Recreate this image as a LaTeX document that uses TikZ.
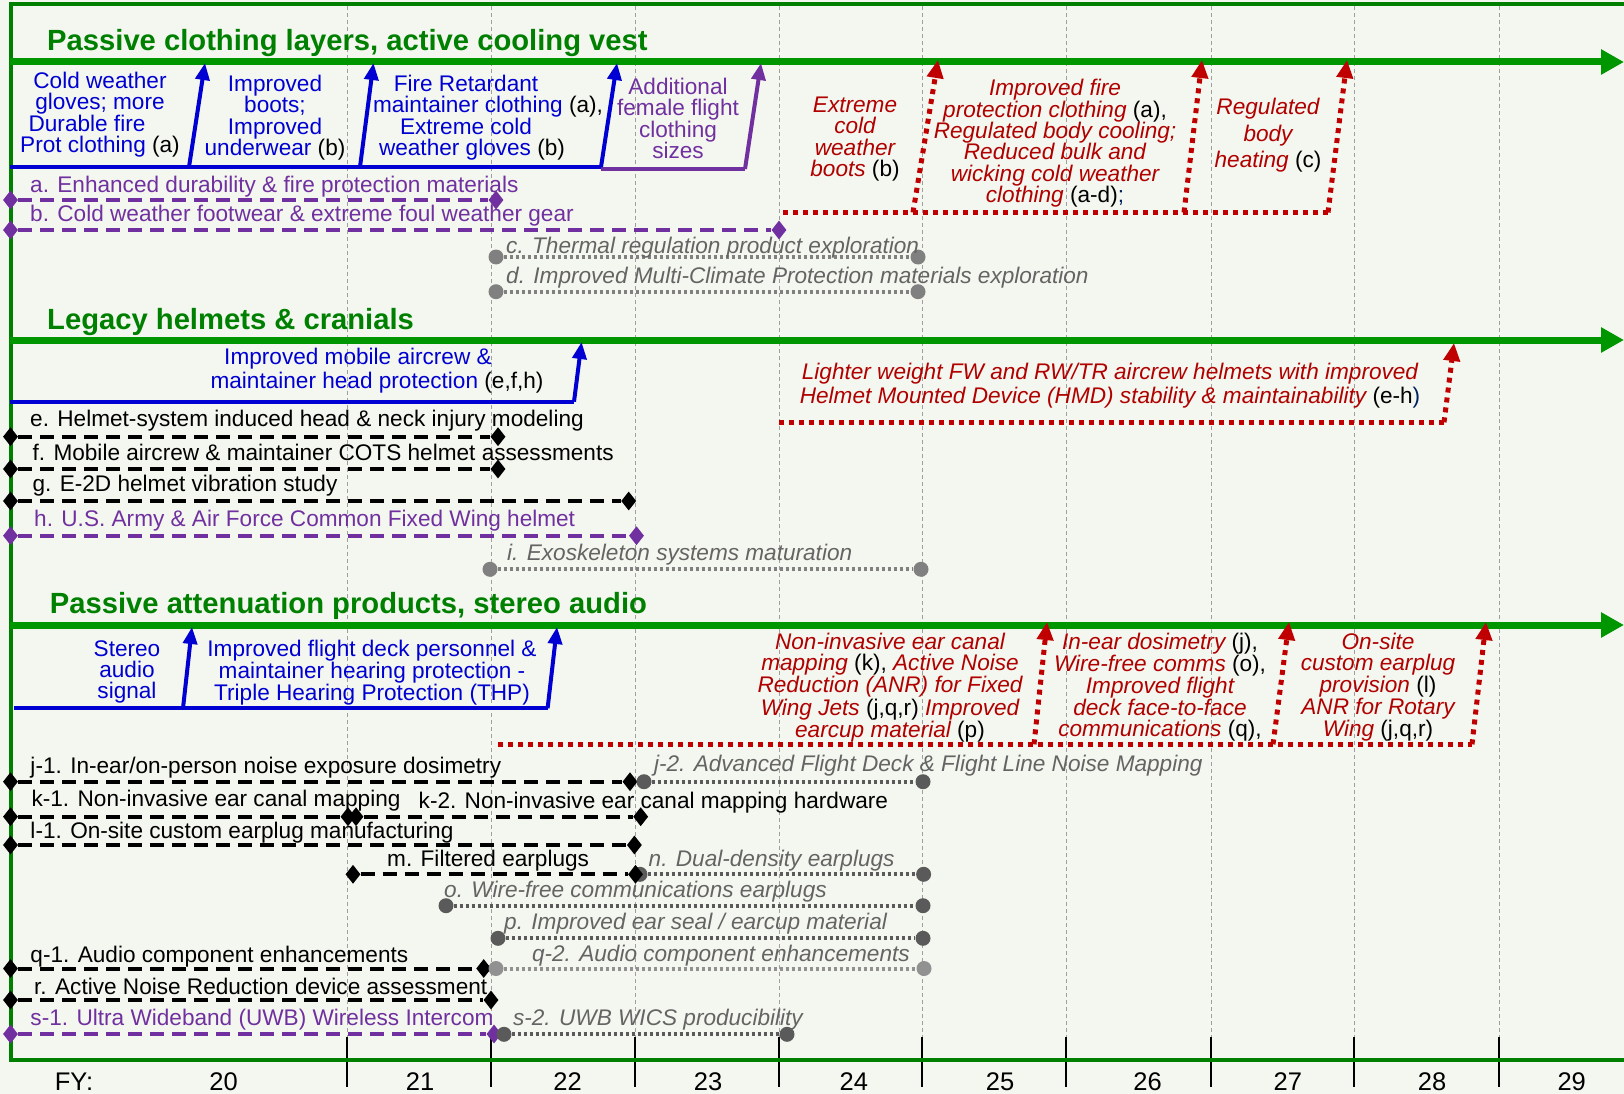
\documentclass[tikz,border=0pt]{standalone}
\usepackage{fontspec}
\setmainfont{Liberation Sans}
\usetikzlibrary{arrows.meta,shapes.geometric}
\definecolor{bg}{RGB}{244,247,239}
\definecolor{grn}{RGB}{0,150,0}
\definecolor{grnF}{RGB}{0,128,0}
\definecolor{grnT}{RGB}{0,128,0}
\definecolor{blu}{RGB}{0,0,210}
\definecolor{pur}{RGB}{112,48,160}
\definecolor{dred}{RGB}{192,0,0}
\definecolor{redT}{RGB}{176,0,0}
\definecolor{gtx}{RGB}{100,100,100}
\definecolor{gcA}{RGB}{128,128,128}
\definecolor{gcB}{RGB}{90,90,90}
\definecolor{gcC}{RGB}{145,145,145}
\definecolor{navyc}{RGB}{0,32,96}
\newcommand{\blkp}[1]{\textcolor{black}{\upshape #1}}
\begin{document}
\begin{tikzpicture}[x=1pt,y=-1pt,
  lbl/.style={anchor=base west, inner sep=0pt, font=\fontsize{22.6}{21.3}\selectfont},
  glbl/.style={anchor=base west, inner sep=0pt, text=gtx, font=\fontsize{22.6}{21.3}\selectfont\itshape},
  blk/.style={anchor=north, inner sep=0pt, align=center, font=\fontsize{22.6}{21.3}\selectfont},
  rblk/.style={anchor=north, inner sep=0pt, align=center, text=redT, font=\fontsize{22.6}{21.3}\selectfont\itshape},
  ttl/.style={anchor=base west, inner sep=0pt, text=grnT, font=\fontsize{29.2}{30}\selectfont\bfseries},
  yr/.style={anchor=base, inner sep=0pt, font=\fontsize{25.5}{26}\selectfont},
  grid/.style={draw=gray!75, line width=1pt, dash pattern=on 4pt off 3pt},
  tickl/.style={draw=black, line width=2pt},
  gline/.style={draw=grn, line width=7pt, -{Triangle[length=23pt,width=24pt]}},
  dashbar/.style={line width=4pt, dash pattern=on 14pt off 8pt},
  dotbar/.style={line width=4pt, dash pattern=on 3pt off 3pt},
  dia/.style={diamond, inner sep=0pt, minimum width=15pt, minimum height=19pt},
  gdot/.style={circle, inner sep=0pt, minimum size=15pt},
  bstep/.style={draw=blu, line width=4pt},
  barr/.style={draw=blu, line width=4pt, -{Triangle[length=17pt,width=14pt]}},
  pstep/.style={draw=pur, line width=4pt},
  parr/.style={draw=pur, line width=4pt, -{Triangle[length=17pt,width=14pt]}},
  rstep/.style={draw=dred, line width=5pt, dash pattern=on 5pt off 5pt},
  rarr/.style={draw=dred, line width=5pt, dash pattern=on 5pt off 5pt, -{Triangle[length=18pt,width=16pt]}}
]
\useasboundingbox (0,0) rectangle (1624,1094);
\clip (0,0) rectangle (1624,1094);
\fill[bg] (0,0) rectangle (1624,1094);

% grid lines and ticks
\foreach \gx in {347,491,635,779,922,1066,1211,1354,1499}{
  \draw[grid] (\gx,6) -- (\gx,1037);
  \draw[tickl] (\gx,1037) -- (\gx,1087);
}
% frame
\draw[draw=grnF, line width=4pt] (1640,4) -- (10.5,4) -- (10.5,1060) -- (1640,1060);

% year labels
\node[yr] (fy) at (74,1090) {FY:};
\node[yr] (y20) at (223.6,1090) {20};
\node[yr] (y21) at (420,1090) {21};
\node[yr] (y22) at (567.6,1090) {22};
\node[yr] (y23) at (708,1090) {23};
\node[yr] (y24) at (853.8,1090) {24};
\node[yr] (y25) at (1000,1090) {25};
\node[yr] (y26) at (1147.6,1090) {26};
\node[yr] (y27) at (1287.8,1090) {27};
\node[yr] (y28) at (1432,1090) {28};
\node[yr] (y29) at (1571.7,1090) {29};

% green lines
\coordinate (g1s) at (10,62);  \coordinate (g1e) at (1624,62);
\coordinate (g2s) at (10,340); \coordinate (g2e) at (1624,340);
\coordinate (g3s) at (10,625); \coordinate (g3e) at (1624,625);
\draw[gline] (g1s) -- (g1e);
\draw[gline] (g2s) -- (g2e);
\draw[gline] (g3s) -- (g3e);

% titles
\node[ttl] (t1) at (47,51) {Passive clothing layers, active cooling vest};
\node[ttl] (t2) at (47,329) {Legacy helmets \& cranials};
\node[ttl] (t3) at (49.7,613) {Passive attenuation products, stereo audio};

%%%%%%%% SECTION 1
\coordinate (s1b0) at (10,167);
\coordinate (s1b1) at (189,167);
\coordinate (s1b2) at (360,167);
\coordinate (s1b3) at (601,167);
\coordinate (s1p1) at (745,169);
\coordinate (s1t1) at (205,63);
\coordinate (s1t2) at (373.5,63);
\coordinate (s1t3) at (617,63);
\coordinate (s1t4) at (761,63);
\coordinate (s1p0) at (601,169);
\draw[bstep] (s1b0) -- (s1b3);
\draw[pstep] (s1p0) -- (s1p1);
\draw[barr] (s1b1) -- (s1t1);
\draw[barr] (s1b2) -- (s1t2);
\draw[barr] (s1b3) -- (s1t3);
\draw[parr] (s1p1) -- (s1t4);

\node[blk, text=blu] (bt1) at (100,72) {Cold weather\\gloves; more\\Durable fire\rule{26pt}{0pt}\\Prot clothing \textcolor{black}{(a)}};
\node[blk, text=blu] (bt2) at (275,75) {Improved\\boots;\\Improved\\underwear \textcolor{black}{(b)}};
\node[blk, text=blu] (bt3) at (466,75) {Fire Retardant\\\hspace*{44pt}maintainer clothing \textcolor{black}{(a),}\\Extreme cold\\\hspace*{12pt}weather gloves \textcolor{black}{(b)}};
\node[blk, text=pur] (bt4) at (678,78) {Additional\\female flight\\clothing\\sizes};

% red future path 1
\coordinate (r1a) at (783,212.5);
\coordinate (r1b) at (913,212.5);
\coordinate (r1c) at (1184,212.5);
\coordinate (r1d) at (1328,212.5);
\coordinate (r1tb) at (938,60);
\coordinate (r1tc) at (1202,60);
\coordinate (r1td) at (1347,60);
\draw[rstep] (r1a) -- (r1d);
\draw[rarr] (r1b) -- (r1tb);
\draw[rarr] (r1c) -- (r1tc);
\draw[rarr] (r1d) -- (r1td);

\node[rblk] (rt1) at (855,96.7) {Extreme\\cold\\weather\\boots \blkp{(b)}};
\node[rblk] (rt2) at (1055,79.3) {Improved fire\\protection clothing \blkp{(a),}\\Regulated body cooling;\\Reduced bulk and\\wicking cold weather\\clothing \blkp{(a-d)}\textcolor{navyc}{\upshape ;}};
\node[rblk, font=\fontsize{22.6}{26.3}\selectfont\itshape] (rt3) at (1268,98.3) {Regulated\\body\\heating \blkp{(c)}};

% bars a-d
\node[dia, fill=pur] (aL) at (10.5,200) {};
\node[dia, fill=pur] (aR) at (496,200) {};
\draw[dashbar, draw=pur] (aL) -- (aR);
\node[dia, fill=pur] (bL) at (10.5,230) {};
\node[dia, fill=pur] (bR) at (779,230) {};
\draw[dashbar, draw=pur] (bL) -- (bR);
\node[gdot, fill=gcA] (cL) at (496,257) {};
\node[gdot, fill=gcA] (cR) at (918,257) {};
\draw[dotbar, draw=gcA] (cL) -- (cR);
\node[gdot, fill=gcA] (dL) at (496,291.7) {};
\node[gdot, fill=gcA] (dR) at (918,291.7) {};
\draw[dotbar, draw=gcA] (dL) -- (dR);

\node[lbl, text=pur] (la) at (30,193) {a. Enhanced durability \& fire protection materials};
\node[lbl, text=pur] (lb) at (30,222) {b. Cold weather footwear \& extreme foul weather gear};
\node[glbl] (lc) at (506,253.4) {c. Thermal regulation product exploration};
\node[glbl] (ld) at (506,283.4) {d. Improved Multi-Climate Protection materials exploration};

%%%%%%%% SECTION 2
\coordinate (s2b0) at (10,401.7);
\coordinate (s2b1) at (574,401.7);
\coordinate (s2t1) at (581.6,342);
\draw[bstep] (s2b0) -- (s2b1);
\draw[barr] (s2b1) -- (s2t1);
\node[blk, text=blu, font=\fontsize{22.6}{23.4}\selectfont] (bt5) at (367,348.3) {Improved mobile aircrew \&\hspace*{18pt}\\\hspace*{20pt}maintainer head protection \textcolor{black}{(e,f,h)}};

\coordinate (r2a) at (779,422.3);
\coordinate (r2b) at (1444,422.3);
\coordinate (r2t) at (1454,343);
\draw[rstep] (r2a) -- (r2b);
\draw[rarr] (r2b) -- (r2t);
\node[rblk, font=\fontsize{22.6}{24}\selectfont\itshape] (rt4) at (1110,363.3) {Lighter weight FW and RW/TR aircrew helmets with improved\\Helmet Mounted Device (HMD) stability \& maintainability \blkp{(e-h}\textcolor{navyc}{\upshape )}};

\node[dia, fill=black] (eL) at (10.5,436.7) {};
\node[dia, fill=black] (eR) at (498,436.7) {};
\draw[dashbar, draw=black] (eL) -- (eR);
\node[dia, fill=black] (fL) at (10.5,469) {};
\node[dia, fill=black] (fR) at (498,469) {};
\draw[dashbar, draw=black] (fL) -- (fR);
\node[dia, fill=black] (gL) at (10.5,501) {};
\node[dia, fill=black] (gR) at (628.7,501) {};
\draw[dashbar, draw=black] (gL) -- (gR);
\node[dia, fill=pur] (hL) at (10.5,535.7) {};
\node[dia, fill=pur] (hR) at (636.5,535.7) {};
\draw[dashbar, draw=pur] (hL) -- (hR);
\node[gdot, fill=gcA] (iL) at (490,569.3) {};
\node[gdot, fill=gcA] (iR) at (921,569.3) {};
\draw[dotbar, draw=gcA] (iL) -- (iR);

\node[lbl] (le) at (30,426) {e. Helmet-system induced head \& neck injury modeling};
\node[lbl] (lf) at (32.4,460) {f. Mobile aircrew \& maintainer COTS helmet assessments};
\node[lbl] (lg) at (32.4,491.7) {g. E-2D helmet vibration study};
\node[lbl, text=pur] (lh) at (34,526.7) {h. U.S. Army \& Air Force Common Fixed Wing helmet};
\node[glbl] (li) at (507,560) {i. Exoskeleton systems maturation};

%%%%%%%% SECTION 3
\coordinate (s3b0) at (14,708.3);
\coordinate (s3b1) at (183,708.3);
\coordinate (s3b2) at (547.6,708.3);
\coordinate (s3t1) at (192,627);
\coordinate (s3t2) at (557,627);
\draw[bstep] (s3b0) -- (s3b2);
\draw[barr] (s3b1) -- (s3t1);
\draw[barr] (s3b2) -- (s3t2);
\node[blk, text=blu, font=\fontsize{22.6}{21}\selectfont] (bt6) at (127,640.7) {Stereo\\audio\\signal};
\node[blk, text=blu, font=\fontsize{22.6}{21}\selectfont] (bt7) at (372,640) {Improved flight deck personnel \&\\maintainer hearing protection -\\Triple Hearing Protection (THP)};

\coordinate (r3a) at (498,744.3);
\coordinate (r3b) at (1034,744.3);
\coordinate (r3c) at (1273,744.3);
\coordinate (r3d) at (1472,744.3);
\coordinate (r3tb) at (1047,622);
\coordinate (r3tc) at (1289,622);
\coordinate (r3td) at (1486,622);
\draw[rstep] (r3a) -- (r3d);
\draw[rarr] (r3b) -- (r3tb);
\draw[rarr] (r3c) -- (r3tc);
\draw[rarr] (r3d) -- (r3td);

\node[rblk, font=\fontsize{22.6}{21}\selectfont\itshape] (rt5) at (890,633.3) {Non-invasive ear canal\\mapping \blkp{(k),} Active Noise\\Reduction (ANR) for Fixed\\Wing Jets \blkp{(j,q,r)} Improved\\earcup material \blkp{(p)}};
\node[rblk, font=\fontsize{22.6}{21}\selectfont\itshape] (rt6) at (1160,632.7) {In-ear dosimetry \blkp{(j),}\\Wire-free comms \blkp{(o),}\\Improved flight\\deck face-to-face\\communications \blkp{(q),}};
\node[rblk, font=\fontsize{22.6}{21}\selectfont\itshape] (rt7) at (1378,632.7) {On-site\\custom earplug\\provision \blkp{(l)}\\ANR for Rotary\\Wing \blkp{(j,q,r)}};

% bars j-s
\node[dia, fill=black] (j1L) at (10.5,781.7) {};
\node[dia, fill=black] (j1R) at (630,781.7) {};
\draw[dashbar, draw=black] (j1L) -- (j1R);
\node[gdot, fill=gcB] (j2L) at (644,781.7) {};
\node[gdot, fill=gcB] (j2R) at (923,781.7) {};
\draw[dotbar, draw=gcB] (j2L) -- (j2R);

\node[dia, fill=black] (k1L) at (10.5,816.7) {};
\node[dia, fill=black] (k1R) at (348,816.7) {};
\draw[dashbar, draw=black] (k1L) -- (k1R);
\node[dia, fill=black] (k2L) at (356,816.7) {};
\node[dia, fill=black] (k2R) at (640.7,816.7) {};
\draw[dashbar, draw=black] (k2L) -- (k2R);

\node[dia, fill=black] (l1L) at (10.5,845) {};
\node[dia, fill=black] (l1R) at (634.4,845) {};
\draw[dashbar, draw=black] (l1L) -- (l1R);

\node[dia, fill=black] (mL) at (353,874.3) {};
\node[gdot, fill=gcB] (nL) at (640,874.3) {};
\node[dia, fill=black] (mR) at (635.5,874.3) {};
\draw[dashbar, draw=black] (mL) -- (mR);
\node[gdot, fill=gcB] (nR) at (923.6,874.3) {};
\draw[dotbar, draw=gcB] (nL) -- (nR);

\node[gdot, fill=gcB] (oL) at (446,905.7) {};
\node[gdot, fill=gcB] (oR) at (923,905.7) {};
\draw[dotbar, draw=gcB] (oL) -- (oR);

\node[gdot, fill=gcB] (pL) at (498,938.3) {};
\node[gdot, fill=gcB] (pR) at (923,938.3) {};
\draw[dotbar, draw=gcB] (pL) -- (pR);

\node[dia, fill=black] (q1L) at (10.5,968.5) {};
\node[dia, fill=black] (q1R) at (483.7,968.5) {};
\draw[dashbar, draw=black] (q1L) -- (q1R);
\node[gdot, fill=gcC] (q2L) at (496,968.5) {};
\node[gdot, fill=gcC] (q2R) at (924,968.5) {};
\draw[dotbar, draw=gcC] (q2L) -- (q2R);

\node[dia, fill=black] (rL) at (10.5,1000) {};
\node[dia, fill=black] (rR) at (491,1000) {};
\draw[dashbar, draw=black] (rL) -- (rR);

\node[dia, fill=pur] (s1L) at (10.5,1034) {};
\node[dia, fill=pur] (s1R) at (494,1034) {};
\draw[dashbar, draw=pur] (s1L) -- (s1R);
\node[gdot, fill=gcB] (s2L) at (504,1034.3) {};
\node[gdot, fill=gcB] (s2R) at (787,1034.3) {};
\draw[dotbar, draw=gcB] (s2L) -- (s2R);

\node[lbl] (lj1) at (30.3,773.4) {j-1. In-ear/on-person noise exposure dosimetry};
\node[glbl] (lj2) at (653.8,771.7) {j-2. Advanced Flight Deck \& Flight Line Noise Mapping};
\node[lbl] (lk1) at (31.4,806.7) {k-1. Non-invasive ear canal mapping};
\node[lbl] (lk2) at (418.5,808.4) {k-2. Non-invasive ear canal mapping hardware};
\node[lbl] (ll1) at (30.3,838.4) {l-1. On-site custom earplug manufacturing};
\node[lbl] (lm) at (387,866.7) {m. Filtered earplugs};
\node[glbl] (ln) at (648.5,866.7) {n. Dual-density earplugs};
\node[glbl] (lo) at (444,897.7) {o. Wire-free communications earplugs};
\node[glbl] (lp) at (504,929.4) {p. Improved ear seal / earcup material};
\node[lbl] (lq1) at (30.3,962.7) {q-1. Audio component enhancements};
\node[glbl] (lq2) at (531.8,961.7) {q-2. Audio component enhancements};
\node[lbl] (lr) at (34,994.4) {r. Active Noise Reduction device assessment};
\node[lbl, text=pur] (ls1) at (30.3,1025) {s-1. Ultra Wideband (UWB) Wireless Intercom};
\node[glbl] (ls2) at (512.9,1025) {s-2. UWB WICS producibility};
\end{tikzpicture}
\end{document}
